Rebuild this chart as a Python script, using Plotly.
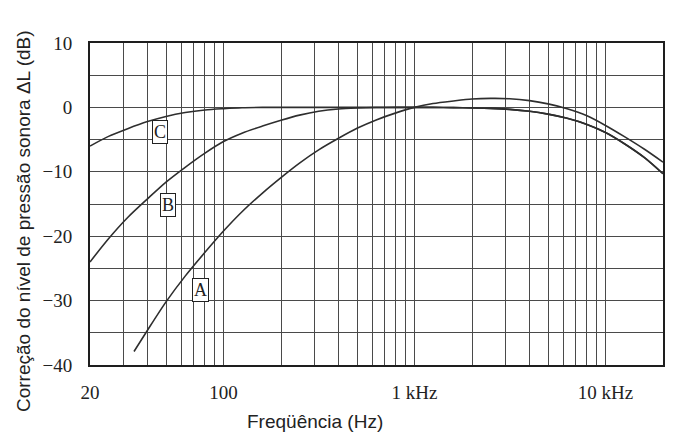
import plotly.graph_objects as go
import math

# Frequencies (Hz) and weighting corrections (dB)
freq_A = [34, 40, 50, 63, 80, 100, 125, 160, 200, 250, 315, 400, 500, 630, 800, 1000,
          1250, 1600, 2000, 2500, 3150, 4000, 5000, 6300, 8000, 10000, 12500, 16000, 20000]
curve_A = [-37.9, -34.6, -30.2, -26.2, -22.5, -19.2, -16.2, -13.3, -10.9, -8.65, -6.6, -4.8, -3.25, -1.95, -0.85, 0.0,
           0.6, 1.0, 1.3, 1.4, 1.35, 1.05, 0.55, -0.2, -1.3, -2.8, -4.5, -6.5, -8.5]

freq_BC = [20, 25, 31.5, 40, 50, 63, 80, 100, 125, 160, 200, 250, 315, 400, 500, 630, 800, 1000,
           1250, 1600, 2000, 2500, 3150, 4000, 5000, 6300, 8000, 10000, 12500, 16000, 20000]
curve_B = [-24.0, -20.4, -17.1, -14.2, -11.6, -9.3, -7.1, -5.3, -4.0, -2.9, -2.0, -1.2, -0.6, -0.25, -0.1, -0.02, 0.0, 0.0,
           0.0, -0.03, -0.08, -0.15, -0.3, -0.6, -1.05, -1.7, -2.65, -3.9, -5.6, -7.8, -10.3]
curve_C = [-6.0, -4.5, -3.3, -2.2, -1.4, -0.8, -0.4, -0.2, -0.05, 0.0, 0.0, 0.0, 0.0, 0.0, 0.0, 0.0, 0.0, 0.0,
           0.0, -0.03, -0.08, -0.15, -0.3, -0.6, -1.05, -1.7, -2.65, -3.9, -5.6, -7.8, -10.3]

# Curve label boxes: (letter, frequency Hz, dB)
curve_labels = [("C", 46.5, -3.8), ("B", 51, -15.2), ("A", 75.5, -28.3)]

x_tick_vals = [20, 100, 1000, 10000]
x_tick_text = ["20", "100", "1 kHz", "10 kHz"]
y_tick_vals = [-40, -30, -20, -10, 0, 10]
y_tick_text = ["\u221240", "\u221230", "\u221220", "\u221210", "0", "10"]

x_title = "Freqüência (Hz)"
y_title = "Correção do nível de pressão sonora \u0394L (dB)"

LINE = "#2e2e2e"
GRID = "#4a4a4a"
SERIF = "Liberation Serif"
SANS = "Liberation Sans"

fig = go.Figure()
for fx, fy in [(freq_BC, curve_C), (freq_BC, curve_B), (freq_A, curve_A)]:
    fig.add_trace(go.Scatter(x=fx, y=fy, mode="lines",
                             line=dict(color=LINE, width=1.6, shape="spline", smoothing=0.8),
                             showlegend=False, hoverinfo="skip"))

minor_x = [m * 10 ** d for d in range(1, 5) for m in range(2, 10)
           if 20 <= m * 10 ** d <= 20000 and m * 10 ** d not in x_tick_vals]

fig.update_xaxes(type="log", range=[math.log10(20), math.log10(20000)],
                 tickmode="array", tickvals=x_tick_vals, ticktext=x_tick_text,
                 showgrid=True, gridcolor=GRID, gridwidth=1,
                 minor=dict(tickvals=minor_x, showgrid=True, gridcolor=GRID, gridwidth=1, ticks=""),
                 showline=True, linecolor="#1e1e1e", linewidth=2, mirror=True,
                 ticks="", ticklabelstandoff=9, zeroline=False,
                 tickfont=dict(family=SERIF, size=19, color="#222"))
fig.update_yaxes(range=[-40, 10], tickmode="array", tickvals=y_tick_vals, ticktext=y_tick_text,
                 showgrid=True, gridcolor=GRID, gridwidth=1,
                 minor=dict(tickvals=[-35, -25, -15, -5, 5], showgrid=True, gridcolor=GRID, gridwidth=1, ticks=""),
                 showline=True, linecolor="#1e1e1e", linewidth=2, mirror=True,
                 ticks="", ticklabelstandoff=12, zeroline=False,
                 tickfont=dict(family=SERIF, size=19, color="#222"))

annotations = []
for letter, f, db in curve_labels:
    annotations.append(dict(x=math.log10(f), y=db, xref="x", yref="y", text=letter,
                            showarrow=False, font=dict(family=SERIF, size=18, color="#222"),
                            bgcolor="white", bordercolor="#222", borderwidth=1, borderpad=1))
annotations.append(dict(x=0.3927, y=-0.174, xref="paper", yref="paper", text=x_title,
                        showarrow=False, xanchor="center", yanchor="middle",
                        font=dict(family=SANS, size=19, color="#222")))
annotations.append(dict(x=-0.117, y=0.447, xref="paper", yref="paper", text=y_title,
                        showarrow=False, xanchor="center", yanchor="middle", textangle=-90,
                        font=dict(family=SANS, size=19, color="#222")))

fig.update_layout(width=684, height=434, margin=dict(l=90, r=21, t=43, b=69),
                  paper_bgcolor="white", plot_bgcolor="white", annotations=annotations)

fig.write_html("out.html")
